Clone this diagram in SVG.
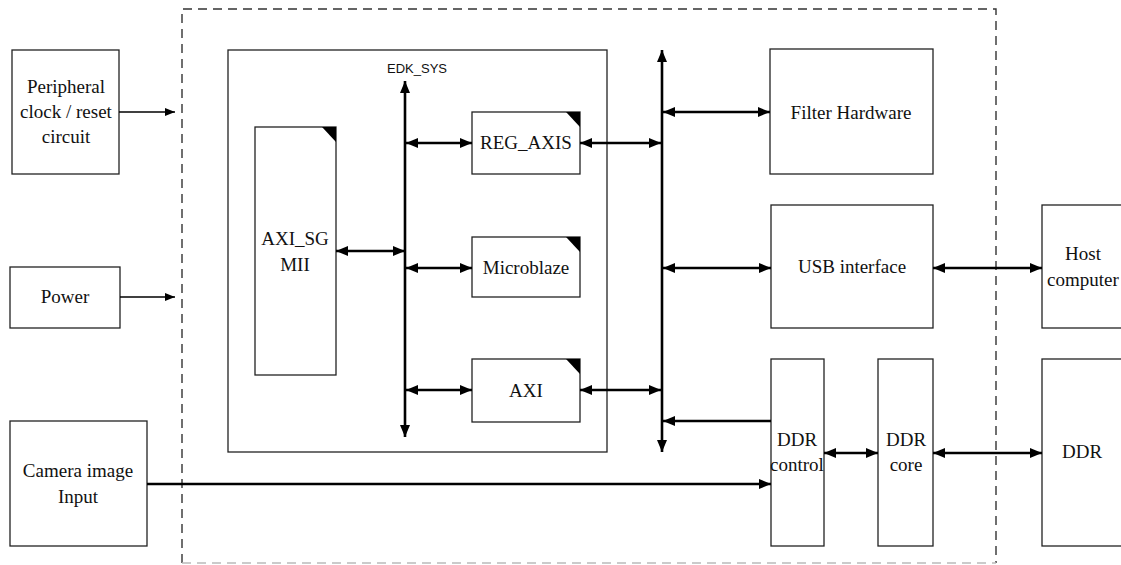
<svg xmlns="http://www.w3.org/2000/svg" width="1121" height="565" viewBox="0 0 1121 565">
<defs>
<style>
.box{fill:#fff;stroke:#222;stroke-width:1.3}
.t{font-family:"Liberation Serif","Times New Roman",serif;font-size:19px;fill:#111;text-anchor:middle}
.s{font-family:"Liberation Sans",Arial,sans-serif;font-size:13px;fill:#111}
.c{stroke:#000;stroke-width:2.6;fill:none}
.thin{stroke:#000;stroke-width:1.3;fill:none}
.corner{fill:#000}
</style>
<marker id="ah" markerUnits="userSpaceOnUse" markerWidth="12" markerHeight="10" refX="12" refY="5" orient="auto-start-reverse"><path d="M0,0 L12,5 L0,10 z" fill="#000"/></marker>
<marker id="ahs" markerUnits="userSpaceOnUse" markerWidth="10" markerHeight="8" refX="10" refY="4" orient="auto"><path d="M0,0 L10,4 L0,8 z" fill="#000"/></marker>
</defs>
<rect width="1121" height="565" fill="#fff"/>
<g id="fpga-boundary">
<path d="M182,563 L182,9 L996,9 L996,563" fill="none" stroke="#333" stroke-width="1.4" stroke-dasharray="9,6"/>
<line x1="182" y1="563" x2="996" y2="563" stroke="#bbb" stroke-width="1.4" stroke-dasharray="9,6"/>
</g>
<g id="edk-sys">
<rect class="box" x="228" y="50" width="379" height="402"/>
<text class="s" x="387" y="73">EDK_SYS</text>
</g>
<g id="peripheral">
<rect class="box" x="12" y="50" width="107" height="124"/>
<text class="t" x="66" y="93">Peripheral</text>
<text class="t" x="66" y="118">clock / reset</text>
<text class="t" x="66" y="143">circuit</text>
</g>
<g id="power">
<rect class="box" x="10" y="267" width="110" height="61"/>
<text class="t" x="65" y="303">Power</text>
</g>
<g id="camera">
<rect class="box" x="10" y="421" width="137" height="125"/>
<text class="t" x="78" y="477">Camera image</text>
<text class="t" x="78" y="503">Input</text>
</g>
<g id="axi-sgmii">
<rect class="box" x="255" y="127" width="81" height="248"/>
<path class="corner" d="M322,127 L336,127 L336,142 z"/>
<text class="t" x="295" y="245">AXI_SG</text>
<text class="t" x="295" y="271">MII</text>
</g>
<g id="reg-axis">
<rect class="box" x="472" y="112" width="108" height="62"/>
<path class="corner" d="M566,112 L580,112 L580,127 z"/>
<text class="t" x="526" y="149">REG_AXIS</text>
</g>
<g id="microblaze">
<rect class="box" x="472" y="237" width="108" height="60"/>
<path class="corner" d="M566,237 L580,237 L580,252 z"/>
<text class="t" x="526" y="274">Microblaze</text>
</g>
<g id="axi">
<rect class="box" x="472" y="359" width="108" height="63"/>
<path class="corner" d="M566,359 L580,359 L580,374 z"/>
<text class="t" x="526" y="397">AXI</text>
</g>
<g id="filter">
<rect class="box" x="770" y="49" width="163" height="125"/>
<text class="t" x="851" y="119">Filter Hardware</text>
</g>
<g id="usb">
<rect class="box" x="771" y="205" width="162" height="123"/>
<text class="t" x="852" y="273">USB interface</text>
</g>
<g id="host">
<rect class="box" x="1042" y="205" width="90" height="123"/>
<text class="t" x="1083" y="260">Host</text>
<text class="t" x="1083" y="286">computer</text>
</g>
<g id="ddr-control">
<rect class="box" x="771" y="359" width="53" height="187"/>
<text class="t" x="797" y="446">DDR</text>
<text class="t" x="797" y="471">control</text>
</g>
<g id="ddr-core">
<rect class="box" x="878" y="359" width="55" height="187"/>
<text class="t" x="906" y="446">DDR</text>
<text class="t" x="906" y="471">core</text>
</g>
<g id="ddr">
<rect class="box" x="1042" y="359" width="90" height="187"/>
<text class="t" x="1082" y="458">DDR</text>
</g>
<g id="connectors">
<line class="thin" x1="119" y1="112" x2="175" y2="112" marker-end="url(#ahs)"/>
<line class="thin" x1="120" y1="297" x2="175" y2="297" marker-end="url(#ahs)"/>
<line class="c" x1="405" y1="437" x2="405" y2="81" marker-start="url(#ah)" marker-end="url(#ah)"/>
<line class="c" x1="662" y1="452" x2="662" y2="50" marker-start="url(#ah)" marker-end="url(#ah)"/>
<line class="c" x1="336" y1="251" x2="405" y2="251" marker-start="url(#ah)" marker-end="url(#ah)"/>
<line class="c" x1="406" y1="143" x2="472" y2="143" marker-start="url(#ah)" marker-end="url(#ah)"/>
<line class="c" x1="406" y1="268" x2="472" y2="268" marker-start="url(#ah)" marker-end="url(#ah)"/>
<line class="c" x1="406" y1="390" x2="472" y2="390" marker-start="url(#ah)" marker-end="url(#ah)"/>
<line class="c" x1="580" y1="143" x2="661" y2="143" marker-start="url(#ah)" marker-end="url(#ah)"/>
<line class="c" x1="580" y1="390" x2="661" y2="390" marker-start="url(#ah)" marker-end="url(#ah)"/>
<line class="c" x1="663" y1="112" x2="770" y2="112" marker-start="url(#ah)" marker-end="url(#ah)"/>
<line class="c" x1="663" y1="268" x2="771" y2="268" marker-start="url(#ah)" marker-end="url(#ah)"/>
<line class="c" x1="933" y1="268" x2="1042" y2="268" marker-start="url(#ah)" marker-end="url(#ah)"/>
<line class="c" x1="771" y1="421" x2="663" y2="421" marker-end="url(#ah)"/>
<line class="c" x1="147" y1="484" x2="771" y2="484" marker-end="url(#ah)"/>
<line class="c" x1="824" y1="453" x2="878" y2="453" marker-start="url(#ah)" marker-end="url(#ah)"/>
<line class="c" x1="933" y1="453" x2="1042" y2="453" marker-start="url(#ah)" marker-end="url(#ah)"/>
</g>
</svg>
